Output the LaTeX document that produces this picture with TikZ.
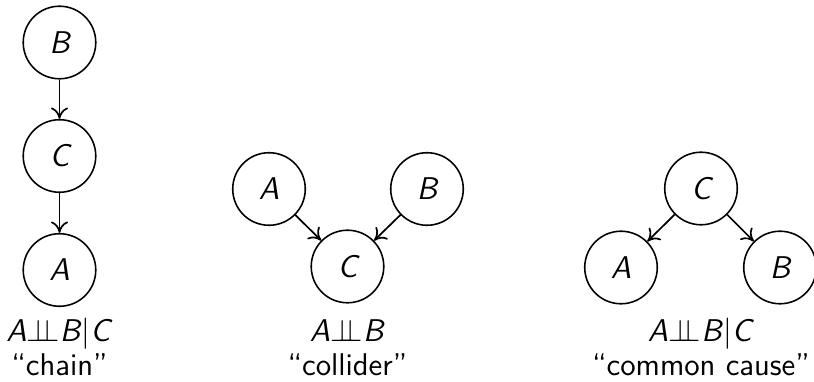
\documentclass[tikz,border=0pt]{standalone}
\usepackage{amssymb}
\usetikzlibrary{arrows.meta}
\newcommand{\condindep}{\ensuremath{\perp\!\!\!\perp}}
\newcommand{\mv}[1]{\textsf{\textit{#1}}}
\begin{document}
\begin{tikzpicture}[x=0.35pt,y=-0.35pt,
  var/.style={draw,circle,line width=0.55pt,minimum size=25.4pt,inner sep=0pt,
    font=\fontsize{11}{13.2}\selectfont\sffamily\itshape},
  caption/.style={font=\fontsize{11}{13.2}\selectfont\sffamily,anchor=base,inner sep=0pt},
  edge/.style={-{To[length=4pt,width=6pt]},line width=0.6pt}]
\useasboundingbox (0,0) rectangle (814,382);

% chain
\node[var] (cb) at (59.5,42.5) {B};
\node[var] (cc) at (59.5,156) {C};
\node[var] (ca) at (59.5,270) {A};
\draw[edge] (cb) -- (cc);
\draw[edge] (cc) -- (ca);
\node[caption] (cl1) at (59.5,342) {\mv{A}\condindep\mv{B}$|$\mv{C}};
\node[caption] (cl2) at (59.5,376) {``chain''};

% collider
\node[var] (ka) at (269,189) {A};
\node[var] (kb) at (427,189) {B};
\node[var] (kc) at (347.5,266.5) {C};
\draw[edge] (ka) -- (kc);
\draw[edge] (kb) -- (kc);
\node[caption] (kl1) at (347.5,342) {\mv{A}\condindep\mv{B}};
\node[caption] (kl2) at (347.5,376) {``collider''};

% common cause
\node[var] (mc) at (701,188.5) {C};
\node[var] (ma) at (621,267.5) {A};
\node[var] (mb) at (780,267.5) {B};
\draw[edge] (mc) -- (ma);
\draw[edge] (mc) -- (mb);
\node[caption] (ml1) at (701,342) {\mv{A}\condindep\mv{B}$|$\mv{C}};
\node[caption] (ml2) at (701,376) {``common cause''};
\end{tikzpicture}
\end{document}
